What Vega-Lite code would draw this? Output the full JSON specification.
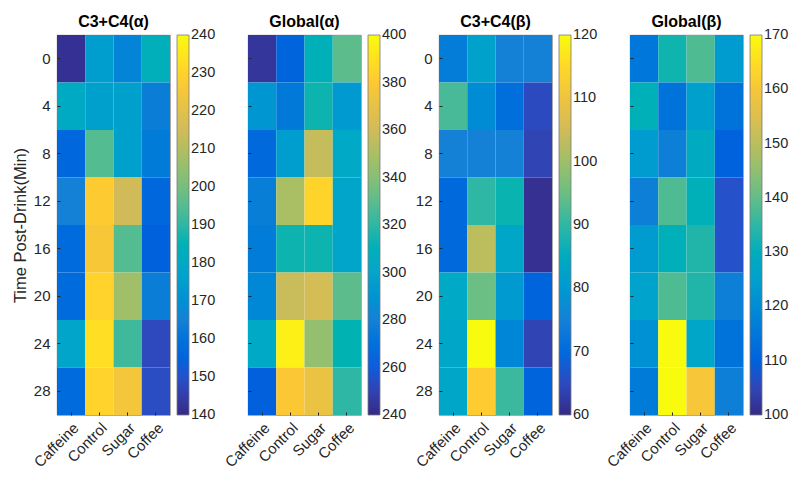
{
  "$schema": "https://vega.github.io/schema/vega-lite/v6.json",
  "background": "white",
  "padding": {"left": 11, "top": 13, "right": 5, "bottom": 5},
  "config": {
    "font": "Liberation Sans",
    "view": {"stroke": "#7a7a7a", "strokeWidth": 0.8},
    "title": {"fontSize": 16, "fontWeight": "bold", "color": "#000000", "offset": 5},
    "axis": {"labelFontSize": 15, "labelColor": "#262626", "titleFontSize": 16.5, "titleColor": "#262626", "titleFontWeight": "normal", "domain": false, "tickColor": "#262626", "tickSize": -3, "grid": false},
    "legend": {"labelFontSize": 14.5, "labelColor": "#262626", "labelBaseline": "middle", "gradientLength": 380, "gradientThickness": 12, "offset": 7, "labelOffset": 5, "gradientStrokeColor": "#7a7a7a", "gradientStrokeWidth": 0.8, "title": null, "direction": "vertical", "orient": "right"}
  },
  "data": {"values": [
    {"panel": "a1", "time": 0, "drink": "Caffeine", "value": 142},
    {"panel": "a1", "time": 0, "drink": "Control", "value": 175},
    {"panel": "a1", "time": 0, "drink": "Sugar", "value": 166},
    {"panel": "a1", "time": 0, "drink": "Coffee", "value": 184},
    {"panel": "a1", "time": 4, "drink": "Caffeine", "value": 181},
    {"panel": "a1", "time": 4, "drink": "Control", "value": 176},
    {"panel": "a1", "time": 4, "drink": "Sugar", "value": 176},
    {"panel": "a1", "time": 4, "drink": "Coffee", "value": 164},
    {"panel": "a1", "time": 8, "drink": "Caffeine", "value": 156},
    {"panel": "a1", "time": 8, "drink": "Control", "value": 195},
    {"panel": "a1", "time": 8, "drink": "Sugar", "value": 176},
    {"panel": "a1", "time": 8, "drink": "Coffee", "value": 163},
    {"panel": "a1", "time": 12, "drink": "Caffeine", "value": 165},
    {"panel": "a1", "time": 12, "drink": "Control", "value": 228},
    {"panel": "a1", "time": 12, "drink": "Sugar", "value": 215},
    {"panel": "a1", "time": 12, "drink": "Coffee", "value": 156},
    {"panel": "a1", "time": 16, "drink": "Caffeine", "value": 157},
    {"panel": "a1", "time": 16, "drink": "Control", "value": 226},
    {"panel": "a1", "time": 16, "drink": "Sugar", "value": 195},
    {"panel": "a1", "time": 16, "drink": "Coffee", "value": 154},
    {"panel": "a1", "time": 20, "drink": "Caffeine", "value": 157},
    {"panel": "a1", "time": 20, "drink": "Control", "value": 230},
    {"panel": "a1", "time": 20, "drink": "Sugar", "value": 207},
    {"panel": "a1", "time": 20, "drink": "Coffee", "value": 164},
    {"panel": "a1", "time": 24, "drink": "Caffeine", "value": 178},
    {"panel": "a1", "time": 24, "drink": "Control", "value": 233},
    {"panel": "a1", "time": 24, "drink": "Sugar", "value": 192},
    {"panel": "a1", "time": 24, "drink": "Coffee", "value": 148},
    {"panel": "a1", "time": 28, "drink": "Caffeine", "value": 157},
    {"panel": "a1", "time": 28, "drink": "Control", "value": 230},
    {"panel": "a1", "time": 28, "drink": "Sugar", "value": 225},
    {"panel": "a1", "time": 28, "drink": "Coffee", "value": 149},

    {"panel": "a2", "time": 0, "drink": "Caffeine", "value": 245},
    {"panel": "a2", "time": 0, "drink": "Control", "value": 264},
    {"panel": "a2", "time": 0, "drink": "Sugar", "value": 311},
    {"panel": "a2", "time": 0, "drink": "Coffee", "value": 330},
    {"panel": "a2", "time": 4, "drink": "Caffeine", "value": 291},
    {"panel": "a2", "time": 4, "drink": "Control", "value": 275},
    {"panel": "a2", "time": 4, "drink": "Sugar", "value": 315},
    {"panel": "a2", "time": 4, "drink": "Coffee", "value": 293},
    {"panel": "a2", "time": 8, "drink": "Caffeine", "value": 267},
    {"panel": "a2", "time": 8, "drink": "Control", "value": 296},
    {"panel": "a2", "time": 8, "drink": "Sugar", "value": 357},
    {"panel": "a2", "time": 8, "drink": "Coffee", "value": 304},
    {"panel": "a2", "time": 12, "drink": "Caffeine", "value": 278},
    {"panel": "a2", "time": 12, "drink": "Control", "value": 350},
    {"panel": "a2", "time": 12, "drink": "Sugar", "value": 385},
    {"panel": "a2", "time": 12, "drink": "Coffee", "value": 301},
    {"panel": "a2", "time": 16, "drink": "Caffeine", "value": 277},
    {"panel": "a2", "time": 16, "drink": "Control", "value": 315},
    {"panel": "a2", "time": 16, "drink": "Sugar", "value": 315},
    {"panel": "a2", "time": 16, "drink": "Coffee", "value": 301},
    {"panel": "a2", "time": 20, "drink": "Caffeine", "value": 283},
    {"panel": "a2", "time": 20, "drink": "Control", "value": 358},
    {"panel": "a2", "time": 20, "drink": "Sugar", "value": 362},
    {"panel": "a2", "time": 20, "drink": "Coffee", "value": 330},
    {"panel": "a2", "time": 24, "drink": "Caffeine", "value": 304},
    {"panel": "a2", "time": 24, "drink": "Control", "value": 396},
    {"panel": "a2", "time": 24, "drink": "Sugar", "value": 344},
    {"panel": "a2", "time": 24, "drink": "Coffee", "value": 314},
    {"panel": "a2", "time": 28, "drink": "Caffeine", "value": 262},
    {"panel": "a2", "time": 28, "drink": "Control", "value": 379},
    {"panel": "a2", "time": 28, "drink": "Sugar", "value": 372},
    {"panel": "a2", "time": 28, "drink": "Coffee", "value": 320},

    {"panel": "b1", "time": 0, "drink": "Caffeine", "value": 74},
    {"panel": "b1", "time": 0, "drink": "Control", "value": 82},
    {"panel": "b1", "time": 0, "drink": "Sugar", "value": 75},
    {"panel": "b1", "time": 0, "drink": "Coffee", "value": 75},
    {"panel": "b1", "time": 4, "drink": "Caffeine", "value": 92},
    {"panel": "b1", "time": 4, "drink": "Control", "value": 77},
    {"panel": "b1", "time": 4, "drink": "Sugar", "value": 71},
    {"panel": "b1", "time": 4, "drink": "Coffee", "value": 65},
    {"panel": "b1", "time": 8, "drink": "Caffeine", "value": 75},
    {"panel": "b1", "time": 8, "drink": "Control", "value": 75},
    {"panel": "b1", "time": 8, "drink": "Sugar", "value": 75},
    {"panel": "b1", "time": 8, "drink": "Coffee", "value": 64},
    {"panel": "b1", "time": 12, "drink": "Caffeine", "value": 70},
    {"panel": "b1", "time": 12, "drink": "Control", "value": 90},
    {"panel": "b1", "time": 12, "drink": "Sugar", "value": 88},
    {"panel": "b1", "time": 12, "drink": "Coffee", "value": 61},
    {"panel": "b1", "time": 16, "drink": "Caffeine", "value": 70},
    {"panel": "b1", "time": 16, "drink": "Control", "value": 103},
    {"panel": "b1", "time": 16, "drink": "Sugar", "value": 83},
    {"panel": "b1", "time": 16, "drink": "Coffee", "value": 61},
    {"panel": "b1", "time": 20, "drink": "Caffeine", "value": 84},
    {"panel": "b1", "time": 20, "drink": "Control", "value": 95},
    {"panel": "b1", "time": 20, "drink": "Sugar", "value": 80},
    {"panel": "b1", "time": 20, "drink": "Coffee", "value": 69},
    {"panel": "b1", "time": 24, "drink": "Caffeine", "value": 83},
    {"panel": "b1", "time": 24, "drink": "Control", "value": 120},
    {"panel": "b1", "time": 24, "drink": "Sugar", "value": 76},
    {"panel": "b1", "time": 24, "drink": "Coffee", "value": 64},
    {"panel": "b1", "time": 28, "drink": "Caffeine", "value": 83},
    {"panel": "b1", "time": 28, "drink": "Control", "value": 113},
    {"panel": "b1", "time": 28, "drink": "Sugar", "value": 91},
    {"panel": "b1", "time": 28, "drink": "Coffee", "value": 69},

    {"panel": "b2", "time": 0, "drink": "Caffeine", "value": 115},
    {"panel": "b2", "time": 0, "drink": "Control", "value": 133},
    {"panel": "b2", "time": 0, "drink": "Sugar", "value": 138},
    {"panel": "b2", "time": 0, "drink": "Coffee", "value": 124},
    {"panel": "b2", "time": 4, "drink": "Caffeine", "value": 131},
    {"panel": "b2", "time": 4, "drink": "Control", "value": 114},
    {"panel": "b2", "time": 4, "drink": "Sugar", "value": 125},
    {"panel": "b2", "time": 4, "drink": "Coffee", "value": 114},
    {"panel": "b2", "time": 8, "drink": "Caffeine", "value": 124},
    {"panel": "b2", "time": 8, "drink": "Control", "value": 117},
    {"panel": "b2", "time": 8, "drink": "Sugar", "value": 129},
    {"panel": "b2", "time": 8, "drink": "Coffee", "value": 110},
    {"panel": "b2", "time": 12, "drink": "Caffeine", "value": 117},
    {"panel": "b2", "time": 12, "drink": "Control", "value": 138},
    {"panel": "b2", "time": 12, "drink": "Sugar", "value": 131},
    {"panel": "b2", "time": 12, "drink": "Coffee", "value": 107},
    {"panel": "b2", "time": 16, "drink": "Caffeine", "value": 124},
    {"panel": "b2", "time": 16, "drink": "Control", "value": 131},
    {"panel": "b2", "time": 16, "drink": "Sugar", "value": 134},
    {"panel": "b2", "time": 16, "drink": "Coffee", "value": 107},
    {"panel": "b2", "time": 20, "drink": "Caffeine", "value": 126},
    {"panel": "b2", "time": 20, "drink": "Control", "value": 138},
    {"panel": "b2", "time": 20, "drink": "Sugar", "value": 134},
    {"panel": "b2", "time": 20, "drink": "Coffee", "value": 117},
    {"panel": "b2", "time": 24, "drink": "Caffeine", "value": 121},
    {"panel": "b2", "time": 24, "drink": "Control", "value": 170},
    {"panel": "b2", "time": 24, "drink": "Sugar", "value": 127},
    {"panel": "b2", "time": 24, "drink": "Coffee", "value": 114},
    {"panel": "b2", "time": 28, "drink": "Caffeine", "value": 116},
    {"panel": "b2", "time": 28, "drink": "Control", "value": 170},
    {"panel": "b2", "time": 28, "drink": "Sugar", "value": 160},
    {"panel": "b2", "time": 28, "drink": "Coffee", "value": 117}
  ]},
  "bounds": "flush",
  "spacing": 78,
  "resolve": {"scale": {"color": "independent", "x": "independent", "y": "independent"}, "legend": {"color": "independent"}, "axis": {"x": "independent", "y": "independent"}},
  "hconcat": [
    {
      "title": "C3+C4(α)",
      "width": 113, "height": 380,
      "transform": [{"filter": "datum.panel === 'a1'"}],
      "mark": {"type": "rect"},
      "encoding": {
        "x": {"field": "drink", "type": "nominal", "sort": ["Caffeine", "Control", "Sugar", "Coffee"], "scale": {"paddingInner": 0, "paddingOuter": 0}, "axis": {"title": null, "labelAngle": -45, "labelPadding": 8}},
        "y": {"field": "time", "type": "ordinal", "scale": {"paddingInner": 0, "paddingOuter": 0}, "axis": {"title": "Time Post-Drink(Min)", "labelPadding": 10, "titlePadding": 5}},
        "color": {"field": "value", "type": "quantitative", "scale": {"domain": [140, 240], "range": ["#352a87", "#0f5cdd", "#1481d6", "#06a4ca", "#2eb7a4", "#87bf77", "#d1bb59", "#fec832", "#f9fb0e"]}, "legend": {"values": [140, 150, 160, 170, 180, 190, 200, 210, 220, 230, 240], "encode": {"labels": {"update": {"baseline": {"value": "middle"}}}}}}
      }
    },
    {
      "title": "Global(α)",
      "width": 113, "height": 380,
      "transform": [{"filter": "datum.panel === 'a2'"}],
      "mark": {"type": "rect"},
      "encoding": {
        "x": {"field": "drink", "type": "nominal", "sort": ["Caffeine", "Control", "Sugar", "Coffee"], "scale": {"paddingInner": 0, "paddingOuter": 0}, "axis": {"title": null, "labelAngle": -45, "labelPadding": 8}},
        "y": {"field": "time", "type": "ordinal", "scale": {"paddingInner": 0, "paddingOuter": 0}, "axis": {"title": null, "labels": false}},
        "color": {"field": "value", "type": "quantitative", "scale": {"domain": [240, 400], "range": ["#352a87", "#0f5cdd", "#1481d6", "#06a4ca", "#2eb7a4", "#87bf77", "#d1bb59", "#fec832", "#f9fb0e"]}, "legend": {"values": [240, 260, 280, 300, 320, 340, 360, 380, 400], "encode": {"labels": {"update": {"baseline": {"value": "middle"}}}}}}
      }
    },
    {
      "title": "C3+C4(β)",
      "width": 113, "height": 380,
      "transform": [{"filter": "datum.panel === 'b1'"}],
      "mark": {"type": "rect"},
      "encoding": {
        "x": {"field": "drink", "type": "nominal", "sort": ["Caffeine", "Control", "Sugar", "Coffee"], "scale": {"paddingInner": 0, "paddingOuter": 0}, "axis": {"title": null, "labelAngle": -45, "labelPadding": 8}},
        "y": {"field": "time", "type": "ordinal", "scale": {"paddingInner": 0, "paddingOuter": 0}, "axis": {"title": null, "labelPadding": 10}},
        "color": {"field": "value", "type": "quantitative", "scale": {"domain": [60, 120], "range": ["#352a87", "#0f5cdd", "#1481d6", "#06a4ca", "#2eb7a4", "#87bf77", "#d1bb59", "#fec832", "#f9fb0e"]}, "legend": {"values": [60, 70, 80, 90, 100, 110, 120], "encode": {"labels": {"update": {"baseline": {"value": "middle"}}}}}}
      }
    },
    {
      "title": "Global(β)",
      "width": 113, "height": 380,
      "transform": [{"filter": "datum.panel === 'b2'"}],
      "mark": {"type": "rect"},
      "encoding": {
        "x": {"field": "drink", "type": "nominal", "sort": ["Caffeine", "Control", "Sugar", "Coffee"], "scale": {"paddingInner": 0, "paddingOuter": 0}, "axis": {"title": null, "labelAngle": -45, "labelPadding": 8}},
        "y": {"field": "time", "type": "ordinal", "scale": {"paddingInner": 0, "paddingOuter": 0}, "axis": {"title": null, "labels": false}},
        "color": {"field": "value", "type": "quantitative", "scale": {"domain": [100, 170], "range": ["#352a87", "#0f5cdd", "#1481d6", "#06a4ca", "#2eb7a4", "#87bf77", "#d1bb59", "#fec832", "#f9fb0e"]}, "legend": {"values": [100, 110, 120, 130, 140, 150, 160, 170], "encode": {"labels": {"update": {"baseline": {"value": "middle"}}}}}}
      }
    }
  ]
}
